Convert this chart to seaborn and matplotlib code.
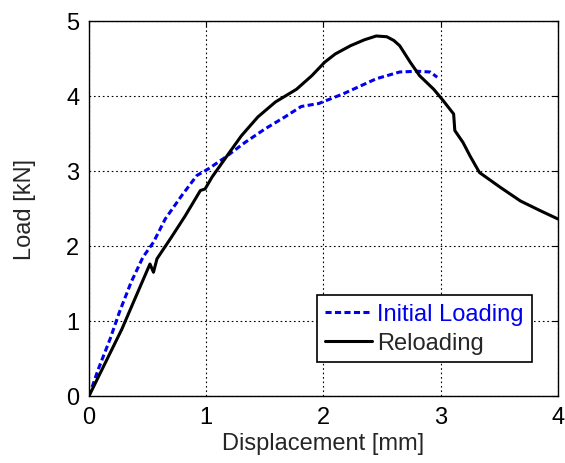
import matplotlib
matplotlib.use("Agg")
import matplotlib.pyplot as plt
import seaborn as sns
import pandas as pd

# Initial Loading (blue dashed)
init_x = [0.0, 0.08, 0.18, 0.26, 0.36, 0.46, 0.55, 0.65, 0.79, 0.92, 1.02, 1.16, 1.33,
          1.50, 1.67, 1.81, 1.96, 2.17, 2.45, 2.65, 2.80, 2.91, 2.97]
init_y = [0.0, 0.36, 0.76, 1.12, 1.52, 1.85, 2.05, 2.36, 2.67, 2.94, 3.03, 3.18, 3.38,
          3.56, 3.72, 3.86, 3.90, 4.03, 4.23, 4.32, 4.33, 4.32, 4.25]

# Reloading (black solid)
rel_x = [0.0, 0.28, 0.39, 0.52, 0.55, 0.58, 0.70, 0.82, 0.95, 0.99, 1.05, 1.19, 1.30,
         1.44, 1.59, 1.77, 1.90, 2.01, 2.10, 2.23, 2.35, 2.45, 2.54, 2.60, 2.65, 2.74,
         2.82, 2.94, 3.02, 3.11, 3.12, 3.19, 3.25, 3.33, 3.51, 3.68, 3.85, 4.00]
rel_y = [0.0, 0.89, 1.29, 1.76, 1.65, 1.83, 2.11, 2.40, 2.74, 2.76, 2.92, 3.23, 3.47,
         3.72, 3.92, 4.09, 4.27, 4.45, 4.56, 4.67, 4.75, 4.80, 4.79, 4.74, 4.67, 4.45,
         4.27, 4.09, 3.94, 3.76, 3.54, 3.38, 3.20, 2.98, 2.78, 2.60, 2.47, 2.36]

series_names = ["Initial Loading", "Reloading"]
x_ticks = [0, 1, 2, 3, 4]
y_ticks = [0, 1, 2, 3, 4, 5]

df = pd.concat([
    pd.DataFrame({"x": init_x, "y": init_y, "series": series_names[0]}),
    pd.DataFrame({"x": rel_x, "y": rel_y, "series": series_names[1]}),
], ignore_index=True)

sns.set_style("white")
plt.rcParams["font.family"] = ["Liberation Sans", "DejaVu Sans"]

FS = 17
fig = plt.figure(figsize=(5.65, 4.64), dpi=100)
ax = fig.add_axes([0.1575, 0.1444, 0.8301, 0.8082])

colors = {series_names[0]: "#0000ee", series_names[1]: "black"}
sns.lineplot(data=df, x="x", y="y", hue="series", style="series",
             palette=colors, dashes={series_names[0]: (2.0, 1.1), series_names[1]: ""},
             sort=False, estimator=None, linewidth=2.2, ax=ax, legend=False)

ax.set_xlim(0, 4)
ax.set_ylim(0, 5)
ax.set_xticks(x_ticks)
ax.set_yticks(y_ticks)
ax.grid(True, linestyle=(0, (1.5, 2.5)), color="black", linewidth=0.8)
ax.set_axisbelow(True)
for s in ax.spines.values():
    s.set_color("black")
    s.set_linewidth(1.0)
ax.tick_params(direction="in", top=True, right=True, length=4, labelsize=FS,
               colors="black", pad=7)
ax.set_xlabel("Displacement [mm]", fontsize=FS, labelpad=3)
ax.set_ylabel("Load [kN]", fontsize=FS, labelpad=22)

lines = ax.get_lines()
leg = ax.legend(lines[:2], series_names, loc="lower left",
                bbox_to_anchor=(0.486, 0.09), fontsize=FS, frameon=True,
                fancybox=False, edgecolor="black", framealpha=1,
                handlelength=2.0, handletextpad=0.2, borderpad=0.35,
                labelspacing=0.3, borderaxespad=0)
leg.get_frame().set_linewidth(1.2)
leg.get_texts()[0].set_color("#0000ee")

fig.savefig("out.png", dpi=100)
